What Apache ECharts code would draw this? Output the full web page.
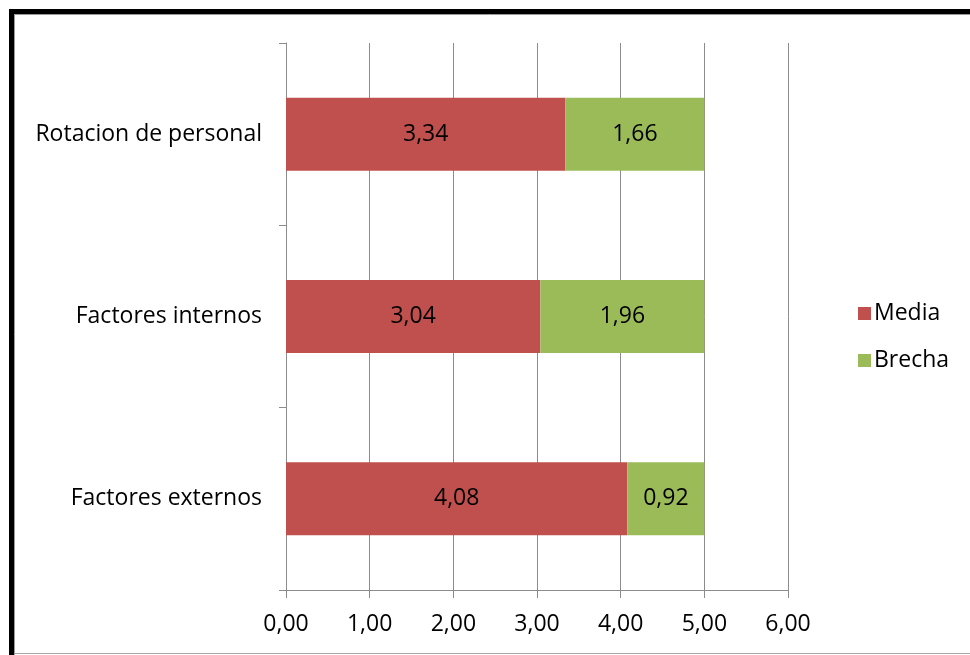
<!DOCTYPE html>
<html>
<head>
<meta charset="utf-8">
<style>
  html, body { margin: 0; padding: 0; background: #ffffff; }
  #chart { width: 970px; height: 655px; }
</style>
<script src="https://cdn.jsdelivr.net/npm/echarts@6/dist/echarts.min.js"></script>
</head>
<body>
<div id="chart"></div>
<script>
// Categories, top to bottom
const categories = ['Rotacion de personal', 'Factores internos', 'Factores externos'];
// Stacked values
const mediaValues = [3.34, 3.04, 4.08];
const brechaValues = [1.66, 1.96, 0.92];
const seriesNames = ['Media', 'Brecha'];

const FONT = '"Open Sans", "Noto Sans", sans-serif';
const FONT_SIZE = 23;
const AXIS_GREY = '#8c8c8c';
const fmt = v => v.toFixed(2).replace('.', ',');

const chart = echarts.init(document.getElementById('chart'), null, { renderer: 'canvas' });

const labelStyle = {
  show: true,
  position: 'inside',
  color: '#000000',
  fontFamily: FONT,
  fontSize: FONT_SIZE,
  formatter: p => fmt(p.value)
};

chart.setOption({
  backgroundColor: '#ffffff',
  animation: false,
  textStyle: { fontFamily: FONT },
  grid: { left: 286, right: 182, top: 43, bottom: 65, containLabel: false },
  legend: {
    orient: 'vertical',
    left: 853,
    top: 297,
    itemWidth: 13,
    itemHeight: 13,
    itemGap: 24,
    icon: 'rect',
    textStyle: { fontFamily: FONT, fontSize: FONT_SIZE, color: '#000000', padding: [0, 0, 0, -2] },
    data: seriesNames
  },
  xAxis: {
    type: 'value',
    min: 0,
    max: 6,
    interval: 1,
    axisLine: { show: true, lineStyle: { color: AXIS_GREY, width: 1 } },
    axisTick: { show: true, length: 8, lineStyle: { color: AXIS_GREY } },
    axisLabel: { margin: 23, fontFamily: FONT, fontSize: FONT_SIZE, color: '#000000', formatter: v => fmt(v) },
    splitLine: { show: true, lineStyle: { color: AXIS_GREY, width: 1 } }
  },
  yAxis: {
    type: 'category',
    inverse: true,
    data: categories,
    axisLine: { show: true, lineStyle: { color: AXIS_GREY, width: 1 } },
    axisTick: { show: true, length: 7, lineStyle: { color: AXIS_GREY } },
    axisLabel: { margin: 24, fontFamily: FONT, fontSize: FONT_SIZE, color: '#000000' },
    splitLine: { show: false }
  },
  series: [
    {
      name: seriesNames[0],
      type: 'bar',
      stack: 'total',
      barWidth: 73,
      data: mediaValues,
      itemStyle: { color: '#c0504d' },
      label: labelStyle
    },
    {
      name: seriesNames[1],
      type: 'bar',
      stack: 'total',
      barWidth: 73,
      data: brechaValues,
      itemStyle: { color: '#9bbb59' },
      label: labelStyle
    }
  ],
  graphic: [
    // frame around the chart area
    { type: 'line', shape: { x1: 9, y1: 11.5, x2: 970, y2: 11.5 }, style: { stroke: '#000000', lineWidth: 5 }, z: 100 },
    { type: 'line', shape: { x1: 9, y1: 14.5, x2: 970, y2: 14.5 }, style: { stroke: '#9a9a9a', lineWidth: 1 }, z: 100 },
    { type: 'line', shape: { x1: 11.5, y1: 9, x2: 11.5, y2: 655 }, style: { stroke: '#000000', lineWidth: 5 }, z: 100 },
    { type: 'line', shape: { x1: 14.5, y1: 14, x2: 14.5, y2: 655 }, style: { stroke: '#9a9a9a', lineWidth: 1 }, z: 100 },
    { type: 'line', shape: { x1: 14, y1: 653.5, x2: 970, y2: 653.5 }, style: { stroke: '#a8a8a8', lineWidth: 1 }, z: 100 }
  ]
});
</script>
</body>
</html>
